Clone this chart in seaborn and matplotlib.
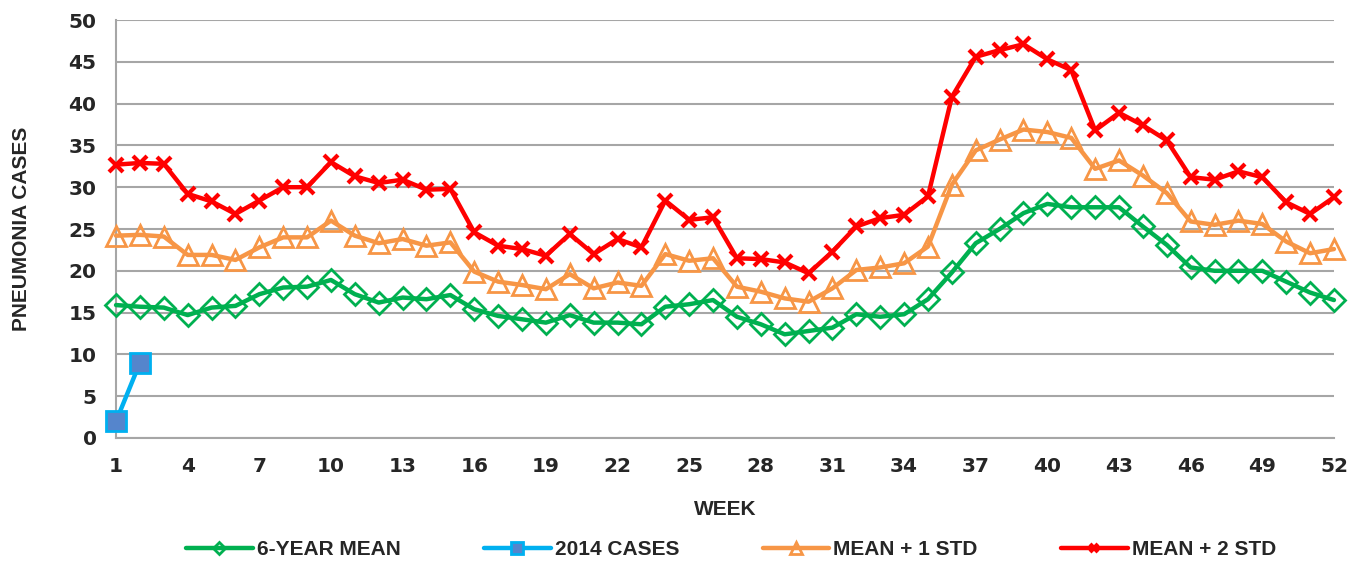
import matplotlib
matplotlib.use('Agg')
import matplotlib.pyplot as plt
import pandas as pd
import seaborn as sns

# Weekly pneumonia cases
weeks = list(range(1, 53))
mean_6yr = [15.9, 15.7, 15.6, 14.7, 15.6, 15.8, 17.2, 18.0, 18.1, 18.9,
            17.2, 16.2, 16.8, 16.6, 17.1, 15.4, 14.6, 14.2, 13.8, 14.7,
            13.8, 13.8, 13.6, 15.7, 16.0, 16.5, 14.5, 13.6, 12.4, 12.8,
            13.2, 14.8, 14.5, 14.8, 16.6, 19.8, 23.3, 25.0, 26.9, 28.0,
            27.6, 27.6, 27.6, 25.3, 23.1, 20.4, 20.0, 20.0, 20.0, 18.7,
            17.4, 16.5]
mean_1std = [24.2, 24.3, 24.1, 21.9, 21.9, 21.3, 22.8, 24.0, 24.0, 26.0,
             24.2, 23.3, 23.8, 23.0, 23.4, 19.9, 18.7, 18.3, 17.8, 19.6,
             17.9, 18.6, 18.2, 22.0, 21.2, 21.5, 18.1, 17.5, 16.7, 16.3,
             17.9, 20.1, 20.4, 20.9, 22.9, 30.3, 34.4, 35.7, 36.9, 36.6,
             35.9, 32.2, 33.2, 31.4, 29.3, 25.9, 25.5, 26.0, 25.6, 23.5,
             22.1, 22.6]
mean_2std = [32.7, 32.9, 32.8, 29.2, 28.3, 26.8, 28.4, 30.0, 30.0, 33.0,
             31.3, 30.5, 30.9, 29.7, 29.8, 24.6, 23.0, 22.6, 21.8, 24.4,
             22.0, 23.8, 22.8, 28.4, 26.1, 26.4, 21.5, 21.4, 21.0, 19.7,
             22.3, 25.3, 26.3, 26.7, 28.9, 40.8, 45.6, 46.4, 47.1, 45.3,
             44.0, 36.8, 38.9, 37.4, 35.6, 31.2, 30.9, 31.9, 31.2, 28.2,
             26.8, 28.8]
weeks_2014 = [1, 2]
cases_2014 = [2, 9]

sns.set_style('white')
plt.rcParams['font.family'] = ['Liberation Sans Narrow', 'Liberation Sans', 'DejaVu Sans']

fig = plt.figure(figsize=(13.62, 5.61), dpi=100)
ax = fig.add_axes([0.0852, 0.2193, 0.8942, 0.745])

df = pd.DataFrame({'week': weeks, 'm': mean_6yr, 's1': mean_1std, 's2': mean_2std})
df14 = pd.DataFrame({'week': weeks_2014, 'cases': cases_2014})

sns.lineplot(data=df, x='week', y='m', ax=ax, color='#00B050', lw=3.2,
             marker='D', ms=11, mfc='none', mec='#00B050', mew=2,
             label='6-YEAR MEAN', zorder=3, clip_on=False)
sns.lineplot(data=df14, x='week', y='cases', ax=ax, color='#00B0F0', lw=3.2,
             marker='s', ms=14, mfc='#5585CC', mec='#00B0F0', mew=2,
             label='2014 CASES', zorder=5, clip_on=False)
sns.lineplot(data=df, x='week', y='s1', ax=ax, color='#F79646', lw=3.2,
             marker='^', ms=14, mfc='none', mec='#F79646', mew=2,
             label='MEAN + 1 STD', zorder=3, clip_on=False)
sns.lineplot(data=df, x='week', y='s2', ax=ax, color='#FF0000', lw=3.2,
             marker='x', ms=10, mec='#FF0000', mew=3,
             label='MEAN + 2 STD', zorder=4, clip_on=False)

ax.set_xlim(1, 52)
ax.set_ylim(0, 50)
ax.set_yticks(range(0, 51, 5))
ax.set_xticks(range(1, 53, 3))
ax.yaxis.grid(True, color='#A6A6A6', lw=1.5)
ax.set_axisbelow(True)
for s in ['top', 'right']:
    ax.spines[s].set_visible(False)
for s in ['left', 'bottom']:
    ax.spines[s].set_color('#A6A6A6')
    ax.spines[s].set_linewidth(1.5)
ax.tick_params(axis='both', which='both', direction='out', color='#A6A6A6',
               width=1.5, length=8, pad=6)
for lab in ax.get_xticklabels() + ax.get_yticklabels():
    lab.set_fontweight('bold')
    lab.set_fontfamily('DejaVu Sans')
    lab.set_fontsize(14.5)
ax.set_xlabel('WEEK', fontsize=15, fontweight='bold')
ax.set_ylabel('PNEUMONIA CASES', fontsize=15, fontweight='bold')
ax.xaxis.set_label_coords(0.5, -0.148)
ax.yaxis.set_label_coords(-0.07, 0.5)

ax.legend(loc='center', bbox_to_anchor=(0.505, -0.268), ncol=4, frameon=False,
          prop={'weight': 'bold', 'size': 15}, handlelength=3.2,
          markerscale=0.6, columnspacing=4.0, handletextpad=0.2)

fig.savefig('out.png', dpi=100)
